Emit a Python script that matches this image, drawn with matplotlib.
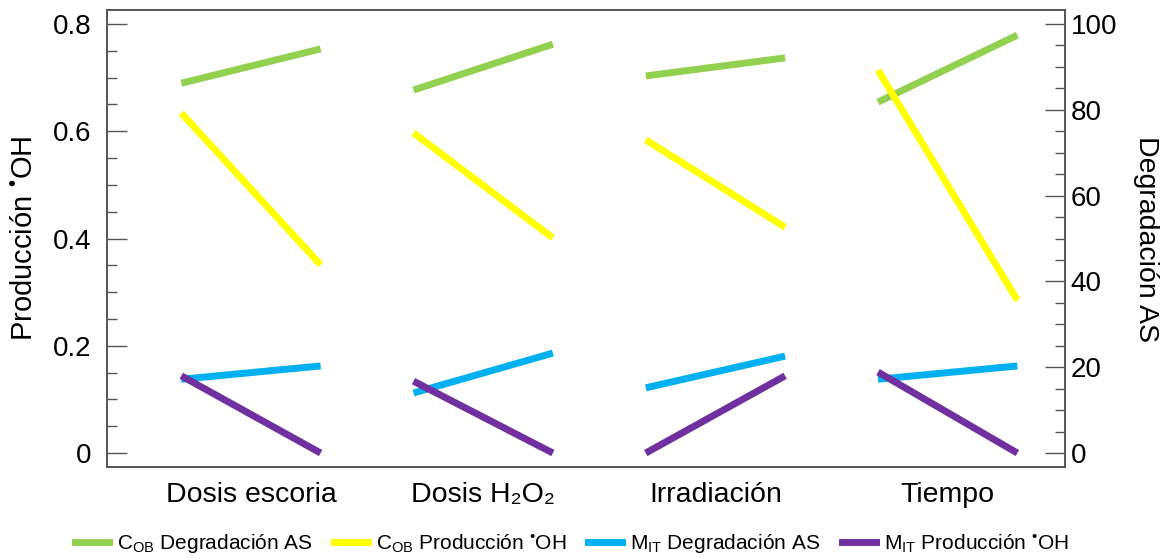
import numpy as np
import matplotlib
matplotlib.use("Agg")
import matplotlib.pyplot as plt
from matplotlib.ticker import MultipleLocator

plt.rcParams["font.family"] = ["Liberation Sans", "DejaVu Sans"]
plt.rcParams["mathtext.fontset"] = "custom"
plt.rcParams["mathtext.rm"] = "Liberation Sans"
plt.rcParams["mathtext.it"] = "Liberation Sans:italic"

# factors (main effects, low -> high level)
factors = ["Dosis escoria", "Dosis H₂O₂", "Irradiación", "Tiempo"]
# right axis: degradacion AS (%)
cob_degr = [[86.2, 94.2], [84.6, 95.3], [87.9, 92.1], [81.8, 97.4]]
mit_degr = [[17.2, 20.3], [14.0, 23.3], [15.2, 22.6], [17.2, 20.3]]
# left axis: produccion OH
cob_prod = [[0.634, 0.351], [0.597, 0.401], [0.584, 0.421], [0.714, 0.285]]
mit_prod = [[0.144, 0.0], [0.134, 0.0], [0.0, 0.144], [0.151, 0.0]]

c_green = "#92D050"
c_yellow = "#FFFF00"
c_blue = "#00B0F0"
c_purple = "#7030A0"
lw = 5

fig = plt.figure(figsize=(11.69, 5.59), dpi=100)
ax = fig.add_axes([0.0915, 0.1646, 0.8195, 0.8174])
ax2 = ax.twinx()

half = 0.3
for i in range(len(factors)):
    xs = [i - half, i + half]
    ax2.plot(xs, cob_degr[i], color=c_green, lw=lw, solid_capstyle="butt")
    ax.plot(xs, cob_prod[i], color=c_yellow, lw=lw, solid_capstyle="butt")
    ax2.plot(xs, mit_degr[i], color=c_blue, lw=lw, solid_capstyle="butt")
    ax.plot(xs, mit_prod[i], color=c_purple, lw=lw, solid_capstyle="butt")

ax.set_zorder(ax2.get_zorder() + 1)
ax.patch.set_visible(False)

ax.set_xlim(-0.62, 3.505)
ax.set_ylim(-0.026, 0.826)
ax2.set_ylim(-0.026 * 125, 0.826 * 125)

ax.yaxis.set_major_locator(MultipleLocator(0.2))
ax.yaxis.set_minor_locator(MultipleLocator(0.05))
ax2.yaxis.set_major_locator(MultipleLocator(20))
ax2.yaxis.set_minor_locator(MultipleLocator(5))
ax.set_yticks([0, 0.2, 0.4, 0.6, 0.8])
ax.set_yticklabels(["0", "0.2", "0.4", "0.6", "0.8"])

ax.set_xticks(range(len(factors)))
ax.set_xticklabels(factors, fontsize=20.5)
ax.tick_params(axis="x", length=0, pad=11)

ax.tick_params(axis="y", which="major", direction="in", length=14.4, width=1,
               color="#555555", labelsize=20, pad=11)
ax.tick_params(axis="y", which="minor", direction="in", length=7.2, width=1, color="#555555")
ax2.tick_params(axis="y", which="major", direction="in", length=14.4, width=1,
                color="#555555", labelsize=20, pad=4)
ax2.tick_params(axis="y", which="minor", direction="in", length=7.2, width=1, color="#555555")

for a in (ax, ax2):
    for s in a.spines.values():
        s.set_color("#555555")
        s.set_linewidth(1.2)

ax.set_ylabel("Producción $^{•}$OH", fontsize=21, labelpad=11)
ax2.set_ylabel("Degradación AS", fontsize=20.5, rotation=270, labelpad=30)

# legend
handles = [
    plt.Line2D([], [], color=c_green, lw=lw),
    plt.Line2D([], [], color=c_yellow, lw=lw),
    plt.Line2D([], [], color=c_blue, lw=lw),
    plt.Line2D([], [], color=c_purple, lw=lw),
]
labels = [
    r"C$_{\mathrm{OB}}$ Degradación AS",
    "C$_{\\mathrm{OB}}$ Producción $^{•}$OH",
    r"M$_{\mathrm{IT}}$ Degradación AS",
    "M$_{\\mathrm{IT}}$ Producción $^{•}$OH",
]
fig.legend(handles, labels, loc="center", bbox_to_anchor=(0.489, 0.027), ncol=4,
           frameon=False, fontsize=15, handlelength=1.63, handletextpad=0.38,
           columnspacing=1.05)

fig.savefig("out.png", dpi=100)
